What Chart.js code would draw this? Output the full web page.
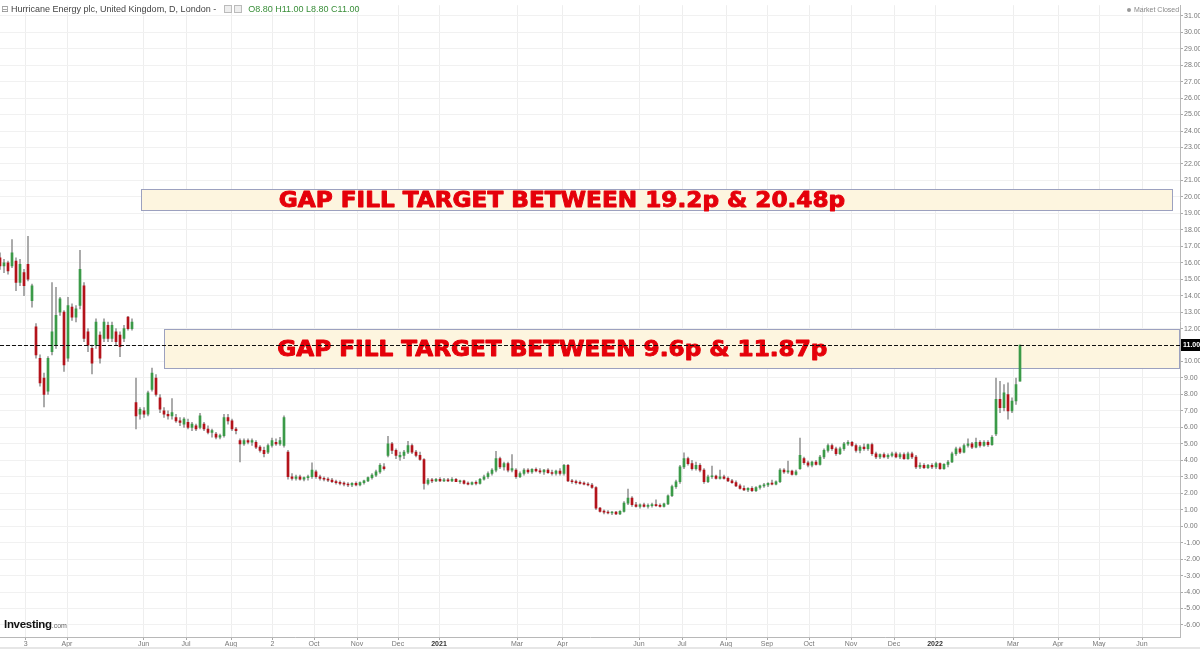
<!DOCTYPE html>
<html>
<head>
<meta charset="utf-8">
<script src="https://cdn.jsdelivr.net/npm/chart.js@4.4.1/dist/chart.umd.min.js"></script>
<style>
html,body{margin:0;padding:0;background:#fff;}
#wrap{position:relative;width:1200px;height:649px;overflow:hidden;background:#fff;}
#c{position:absolute;left:0;top:0;}
#hdr{position:absolute;left:1px;top:4px;font:9px "Liberation Sans",Arial,sans-serif;color:#444;white-space:nowrap;}
#hdr .ic{font-family:"DejaVu Sans";color:#888;font-size:9px;}
#hdr .sq{display:inline-block;width:6px;height:6px;border:1px solid #bbb;background:#eee;margin-left:2px;vertical-align:-1px;}
#hdr .sq.first{margin-left:8px;}
#hdr .g{color:#3a8f3a;margin-left:6px;}
#mc{position:absolute;left:1127px;top:6px;font:7px "Liberation Sans",Arial,sans-serif;color:#888;white-space:nowrap;}
#mc i{display:inline-block;width:4px;height:4px;border-radius:2px;background:#999;margin-right:3px;vertical-align:0px;}
#logo{position:absolute;left:4px;top:614px;white-space:nowrap;font-family:"Liberation Sans",Arial,sans-serif;}
#logo b{font-size:11.5px;color:#111;letter-spacing:-0.3px;}
#logo span{font-size:7px;color:#666;}
#strip{position:absolute;left:0;top:647px;width:1200px;height:2px;background:#e6e6e6;}
</style>
</head>
<body>
<div id="wrap">
<canvas id="c" width="1200" height="649"></canvas>
<div id="hdr"><span class="ic">&#8863;</span> Hurricane Energy plc, United Kingdom, D, London -<span class="sq first"></span><span class="sq"></span><span class="g" id="ohlc"></span></div>
<div id="mc"><i></i>Market Closed</div>
<div id="logo"><b>Investing</b><span>.com</span></div>
<div id="strip"></div>
</div>
<script>
// ---- daily candles (every ~2nd session), pence ----
const opens = [
16.3,15.8,16.0,15.8,16.1,14.8,15.4,15.9,13.7,12.1,10.2,9.0,8.2,10.6,11.0,13.0,
13.0,10.2,13.3,12.7,13.4,14.6,11.8,10.8,11.0,11.6,11.4,12.2,11.4,11.8,11.6,11.4,
12.7,12.0,7.5,6.8,7.0,6.8,8.3,9.0,7.8,7.0,6.8,6.7,6.6,6.4,6.2,6.3,
6.0,6.1,6.0,6.2,5.9,5.7,5.6,5.4,5.5,6.6,6.4,5.9,5.2,5.0,5.2,5.1,
5.1,4.8,4.6,4.5,4.9,5.1,5.0,4.9,4.5,3.0,2.9,3.0,2.85,2.95,3.0,3.3,
3.0,2.9,2.85,2.8,2.7,2.65,2.6,2.55,2.5,2.6,2.5,2.65,2.75,2.95,3.1,3.3,
3.6,4.3,5.0,4.6,4.2,4.3,4.5,4.9,4.5,4.3,4.05,2.6,2.8,2.75,2.85,2.75,
2.8,2.75,2.85,2.7,2.75,2.6,2.55,2.65,2.6,2.85,3.0,3.2,3.4,4.1,3.6,3.8,
3.4,3.4,3.0,3.2,3.4,3.3,3.45,3.35,3.3,3.4,3.25,3.2,3.35,3.2,3.7,2.75,
2.7,2.65,2.6,2.55,2.5,2.35,1.1,0.9,0.85,0.8,0.85,0.75,0.9,1.4,1.7,1.3,
1.2,1.3,1.2,1.25,1.3,1.25,1.2,1.35,1.85,2.4,2.7,3.6,4.1,3.8,3.5,3.7,
3.4,2.7,3.0,3.05,2.9,3.0,2.9,2.75,2.65,2.45,2.3,2.2,2.3,2.15,2.35,2.45,
2.5,2.6,2.55,2.7,3.4,3.3,3.35,3.15,3.5,4.1,3.85,3.7,3.9,3.75,4.2,4.6,
4.9,4.7,4.4,4.7,5.0,5.1,4.9,4.6,4.8,4.7,4.95,4.4,4.2,4.35,4.2,4.3,
4.4,4.2,4.35,4.1,4.4,4.2,3.6,3.7,3.55,3.7,3.6,3.8,3.5,3.75,3.9,4.4,
4.7,4.5,4.9,5.0,4.8,5.1,4.9,5.1,4.95,5.6,7.7,7.2,8.0,7.0,7.6,8.8
];
const highs = [
16.6,16.2,16.1,17.4,16.3,16.2,15.6,17.6,14.7,12.3,10.4,9.3,10.3,14.8,14.5,13.9,
13.1,13.9,13.5,13.4,16.75,14.8,12.0,11.0,12.6,11.8,12.6,12.4,12.4,12.0,11.8,12.2,
12.75,12.6,9.0,7.2,7.2,8.2,9.6,9.2,8.0,7.2,7.0,7.75,6.8,6.6,6.6,6.5,
6.3,6.2,6.85,6.3,6.1,5.9,5.7,5.6,6.8,6.8,6.5,6.0,5.3,5.3,5.3,5.3,
5.2,4.9,4.8,5.0,5.35,5.3,5.4,6.7,4.6,3.2,3.1,3.1,3.0,3.1,3.85,3.4,
3.1,3.0,2.95,2.9,2.8,2.75,2.7,2.65,2.65,2.7,2.7,2.8,3.0,3.2,3.4,3.8,
3.8,5.45,5.1,4.7,4.5,4.6,5.15,5.0,4.6,4.5,4.1,2.9,2.9,2.9,2.95,2.9,
2.9,2.95,2.9,2.8,2.8,2.7,2.7,2.75,2.9,3.1,3.3,3.5,4.55,4.2,3.9,3.9,
4.35,3.5,3.3,3.5,3.5,3.5,3.55,3.5,3.45,3.5,3.4,3.4,3.5,3.75,3.75,2.85,
2.8,2.75,2.7,2.65,2.6,2.4,1.15,1.0,0.95,0.9,0.9,0.95,1.5,2.25,1.8,1.45,
1.35,1.4,1.35,1.4,1.6,1.35,1.4,1.9,2.5,2.8,3.7,4.45,4.2,4.0,3.9,3.8,
3.5,3.1,3.65,3.1,3.4,3.1,3.0,2.85,2.75,2.55,2.45,2.35,2.4,2.4,2.5,2.6,
2.65,2.8,2.75,3.5,3.5,3.95,3.4,3.4,5.35,4.2,3.95,3.95,4.0,4.3,4.7,5.0,
5.0,4.8,4.8,5.1,5.2,5.15,5.0,4.9,5.0,5.0,5.05,4.5,4.4,4.45,4.4,4.5,
4.5,4.45,4.45,4.5,4.5,4.3,3.85,3.8,3.75,3.8,3.9,3.85,3.8,4.0,4.5,4.8,
4.8,5.0,5.3,5.1,5.35,5.2,5.2,5.2,5.5,9.0,8.8,8.6,8.7,7.8,9.0,11.0
];
const lows = [
15.6,15.4,15.3,15.7,14.3,14.6,14.0,14.9,13.3,10.2,8.5,7.25,8.0,10.4,10.8,12.8,
9.4,10.0,12.5,12.4,13.2,11.2,10.6,9.25,10.8,9.9,11.2,11.2,11.2,11.0,10.3,11.2,
11.9,11.9,5.9,6.5,6.6,6.7,8.2,7.9,6.9,6.6,6.5,6.5,6.3,6.1,6.0,5.9,
5.8,5.8,5.9,5.8,5.6,5.4,5.3,5.3,5.4,6.2,5.8,5.6,3.9,4.9,5.0,4.9,
4.7,4.5,4.2,4.4,4.8,4.9,4.9,4.8,2.85,2.8,2.8,2.8,2.75,2.8,2.9,2.9,
2.8,2.75,2.7,2.65,2.55,2.5,2.45,2.4,2.4,2.45,2.45,2.55,2.7,2.85,3.0,3.2,
3.4,4.2,4.4,4.1,4.0,4.1,4.4,4.4,4.2,4.0,2.25,2.5,2.65,2.7,2.7,2.7,
2.7,2.7,2.7,2.6,2.55,2.5,2.5,2.5,2.55,2.8,2.9,3.1,3.3,3.5,3.4,3.3,
3.3,2.9,2.95,3.1,3.2,3.2,3.3,3.2,3.15,3.2,3.1,3.1,3.1,3.1,2.7,2.6,
2.55,2.55,2.5,2.45,2.3,1.0,0.85,0.75,0.75,0.7,0.7,0.7,0.85,1.3,1.2,1.15,
1.1,1.15,1.1,1.15,1.2,1.15,1.15,1.3,1.8,2.3,2.6,3.5,3.7,3.4,3.4,3.3,
2.6,2.65,2.9,2.85,2.85,2.85,2.7,2.6,2.4,2.25,2.15,2.1,2.1,2.1,2.25,2.35,
2.4,2.5,2.5,2.65,3.2,3.2,3.1,3.1,3.45,3.75,3.6,3.6,3.7,3.7,4.1,4.5,
4.6,4.3,4.35,4.6,4.9,4.85,4.5,4.45,4.6,4.6,4.3,4.1,4.1,4.15,4.1,4.2,
4.15,4.1,4.05,4.05,4.1,3.5,3.5,3.5,3.5,3.5,3.5,3.45,3.45,3.6,3.85,4.3,
4.4,4.45,4.8,4.7,4.75,4.8,4.85,4.85,4.9,5.5,6.9,7.0,6.5,6.9,7.4,8.8
];
const closes = [
15.8,16.0,15.5,16.6,14.8,15.9,14.6,15.0,14.6,10.4,8.7,8.0,10.2,11.8,12.8,13.8,
9.8,13.4,12.7,13.2,15.6,11.4,11.0,9.9,12.4,10.2,12.4,11.4,12.2,11.2,10.9,12.0,
12.0,12.4,6.7,7.1,6.8,8.1,9.3,8.0,7.1,6.8,6.7,6.9,6.4,6.3,6.5,6.0,
6.2,5.9,6.7,5.9,5.7,5.8,5.4,5.5,6.6,6.4,5.9,5.8,5.0,5.2,5.1,5.2,
4.8,4.6,4.4,4.9,5.2,5.0,5.2,6.6,3.0,2.9,3.0,2.85,2.95,3.0,3.4,3.0,
2.9,2.85,2.8,2.7,2.65,2.6,2.55,2.5,2.6,2.5,2.65,2.75,2.95,3.1,3.3,3.7,
3.5,5.0,4.6,4.3,4.3,4.5,4.9,4.5,4.3,4.05,2.6,2.8,2.75,2.85,2.75,2.8,
2.75,2.85,2.7,2.75,2.6,2.55,2.65,2.6,2.85,3.0,3.2,3.4,4.1,3.6,3.8,3.4,
3.5,3.0,3.2,3.4,3.3,3.45,3.35,3.3,3.4,3.25,3.2,3.35,3.2,3.7,2.75,2.7,
2.65,2.6,2.55,2.5,2.35,1.1,0.9,0.85,0.8,0.85,0.75,0.9,1.4,1.7,1.3,1.2,
1.3,1.2,1.25,1.3,1.25,1.2,1.35,1.85,2.4,2.7,3.6,4.1,3.8,3.5,3.7,3.4,
2.7,3.0,3.05,2.9,3.0,2.9,2.75,2.65,2.45,2.3,2.2,2.3,2.15,2.35,2.45,2.5,
2.6,2.55,2.7,3.4,3.3,3.35,3.15,3.3,4.3,3.85,3.7,3.9,3.75,4.2,4.6,4.9,
4.7,4.4,4.7,5.0,5.1,4.9,4.6,4.8,4.7,4.95,4.4,4.2,4.35,4.2,4.3,4.4,
4.2,4.35,4.1,4.4,4.2,3.6,3.7,3.55,3.7,3.6,3.8,3.5,3.75,3.9,4.4,4.7,
4.5,4.9,5.0,4.8,5.1,4.9,5.1,4.95,5.4,7.7,7.2,8.1,7.0,7.6,8.6,11.0
];

// ---- time axis (position in candle slots) ----
const xTickPos    = [6.4,16.75,35.9,46.5,57.75,68.1,78.5,89.25,99.5,109.75,129.25,140.6,159.75,170.5,181.5,191.75,202.25,212.75,223.5,233.75,253.25,264.5,274.75,285.5];
const xTickLabels = ['3','Apr','Jun','Jul','Aug','2','Oct','Nov','Dec','2021','Mar','Apr','Jun','Jul','Aug','Sep','Oct','Nov','Dec','2022','Mar','Apr','May','Jun'];
const xRange = [0, 295];

// ---- price axis ----
const yTickVals = [-6,-5,-4,-3,-2,-1,0,1,2,3,4,5,6,7,8,9,10,11,12,13,14,15,16,17,18,19,20,21,22,23,24,25,26,27,28,29,30,31];
const yRange = [-6.73, 31.64];

// ---- gap-fill zones ----
const zoneTexts = ['GAP FILL TARGET BETWEEN 19.2p & 20.48p', 'GAP FILL TARGET BETWEEN 9.6p & 11.87p'];
const zoneLows  = [19.2, 9.6];
const zoneHighs = [20.48, 11.95];
const zoneStarts = [35.2, 41];
const zoneEnds   = [293.25, 295];
const zoneTextX  = [69.7, 69.3];

const last = closes.length - 1;
document.getElementById('ohlc').textContent =
  'O' + opens[last].toFixed(2) + '  H' + highs[last].toFixed(2) + '  L' + lows[last].toFixed(2) + '  C' + closes[last].toFixed(2);

const GREEN = '#3b9a48', RED = '#b3131b', WICK = '#9a9a9a';

const wickData = highs.map((h, i) => ({x: i, y: [lows[i], h]}));
const bodyData = opens.map((o, i) => ({x: i, y: [o, closes[i]]}));

const overlay = {
  id: 'overlay',
  beforeDatasetsDraw(chart) {
    const {ctx, scales: {x, y}} = chart;
    ctx.save();
    zoneLows.forEach((lo, i) => {
      const x0 = Math.round(x.getPixelForValue(zoneStarts[i])) + 0.5;
      const x1 = Math.round(x.getPixelForValue(zoneEnds[i])) - 0.5;
      const yT = Math.round(y.getPixelForValue(zoneHighs[i])) + 0.5;
      const yB = Math.round(y.getPixelForValue(lo)) + 0.5;
      ctx.fillStyle = '#fdf5df';
      ctx.fillRect(x0, yT, x1 - x0, yB - yT);
      ctx.strokeStyle = '#9ca1bf';
      ctx.lineWidth = 1;
      ctx.strokeRect(x0, yT, x1 - x0, yB - yT);
      const cy = (yT + yB) / 2;
      const tx = x.getPixelForValue(zoneTextX[i]);
      ctx.save();
      ctx.translate(tx, cy + 7);
      ctx.scale(1.13, 1);
      ctx.fillStyle = '#e5000a';
      ctx.strokeStyle = '#e5000a';
      ctx.lineWidth = 0.9;
      ctx.lineJoin = 'round';
      ctx.font = 'bold 20.5px "DejaVu Sans", Verdana, sans-serif';
      ctx.textBaseline = 'alphabetic';
      ctx.textAlign = 'left';
      ctx.fillText(zoneTexts[i], 0, 0);
      ctx.strokeText(zoneTexts[i], 0, 0);
      ctx.restore();
    });
    ctx.restore();
  },
  afterDatasetsDraw(chart) {
    const {ctx, chartArea, scales: {y}} = chart;
    const py = Math.round(y.getPixelForValue(closes[last])) + 0.5;
    ctx.save();
    ctx.strokeStyle = '#111';
    ctx.lineWidth = 1.2;
    ctx.setLineDash([4, 2]);
    ctx.beginPath();
    ctx.moveTo(chartArea.left, py);
    ctx.lineTo(chartArea.right, py);
    ctx.stroke();
    ctx.restore();
  },
  afterDraw(chart) {
    const {ctx, chartArea, scales: {y}} = chart;
    const py = y.getPixelForValue(closes[last]);
    ctx.save();
    ctx.fillStyle = '#000';
    ctx.fillRect(chartArea.right + 1, Math.round(py) - 6, 20, 12);
    ctx.fillStyle = '#fff';
    ctx.font = 'bold 7px "Liberation Sans", Arial, sans-serif';
    ctx.textBaseline = 'middle';
    ctx.textAlign = 'left';
    ctx.fillText(closes[last].toFixed(2), chartArea.right + 3, Math.round(py) + 0.5);
    ctx.restore();
  }
};

new Chart(document.getElementById('c'), {
  type: 'bar',
  data: {
    datasets: [
      {label: 'wick', data: wickData, backgroundColor: WICK, barThickness: 1, grouped: false, borderWidth: 0, order: 2},
      {label: 'body', data: bodyData, grouped: false, barThickness: 2, borderWidth: 0, minBarLength: 1, order: 1,
       backgroundColor: c => (closes[c.dataIndex] >= opens[c.dataIndex] ? GREEN : RED)}
    ]
  },
  options: {
    responsive: false,
    animation: false,
    devicePixelRatio: 1,
    layout: {padding: 0},
    plugins: {legend: {display: false}, tooltip: {enabled: false}},
    scales: {
      x: {
        type: 'linear', min: xRange[0], max: xRange[1], offset: false,
        grid: {color: '#eeeeee', tickLength: 3, offset: false, tickColor: '#aaa'},
        border: {color: '#b8b8b8', width: 1},
        ticks: {
          autoSkip: false, maxRotation: 0, padding: 0,
          color: c => (/^20\d\d$/.test(xTickLabels[c.index] || '') ? '#333' : '#777'),
          font: c => ({size: 7, family: '"Liberation Sans", Arial, sans-serif', weight: /^20\d\d$/.test(xTickLabels[c.index] || '') ? 'bold' : 'normal'}),
          callback: (v, i) => xTickLabels[i]
        },
        afterBuildTicks: s => { s.ticks = xTickPos.map(v => ({value: v})); },
        afterFit: s => { s.height = 12; }
      },
      y: {
        position: 'right', min: yRange[0], max: yRange[1],
        grid: {color: '#f1f1f1', tickLength: 3, tickColor: '#aaa'},
        border: {color: '#b8b8b8', width: 1},
        ticks: {
          color: '#777', padding: 1,
          font: {size: 7, family: '"Liberation Sans", Arial, sans-serif'},
          callback: v => Number(v).toFixed(2)
        },
        afterBuildTicks: s => { s.ticks = yTickVals.map(v => ({value: v})); },
        afterFit: s => { s.width = 20; }
      }
    }
  },
  plugins: [overlay]
});
</script>
</body>
</html>
